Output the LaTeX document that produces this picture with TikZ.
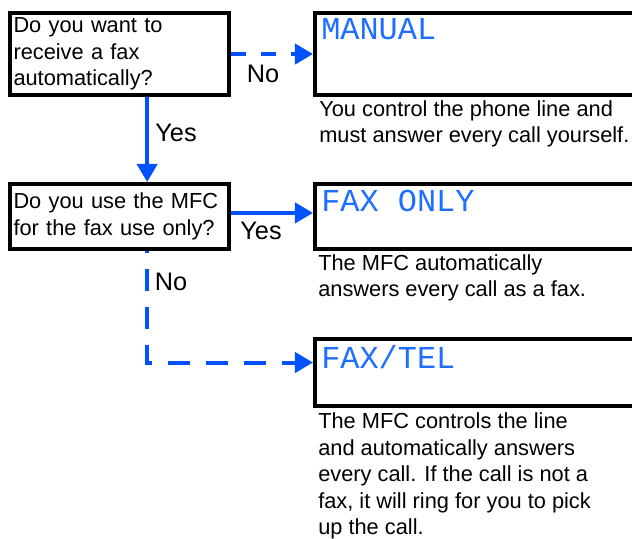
\documentclass[tikz,border=0pt]{standalone}
\usepackage{fontspec}
\setmainfont{Liberation Sans}
\newfontfamily\lcdfont{Liberation Mono}
\usepackage{tikz}
\usetikzlibrary{positioning}
\usetikzlibrary{arrows.meta}
\usepackage{xcolor}
\definecolor{flowblue}{RGB}{0,82,255}
\definecolor{lcdblue}{RGB}{30,110,255}
\newcommand{\bodyfont}{\fontsize{15.5}{18.8}\selectfont}
\newcommand{\screenfont}{\lcdfont\fontsize{22.7}{26}\selectfont}

\begin{document}
\begin{tikzpicture}[x=0.025cm,y=-0.025cm,
  question/.style={draw,line width=0.1cm,anchor=north west,align=left,
    inner xsep=0.0875cm,inner ysep=0,text width=5.3cm,minimum width=5.475cm,font=\bodyfont},
  screen/.style={draw,line width=0.1cm,anchor=north west,minimum width=8.5cm},
  display/.style={anchor=north west,inner sep=0,text=lcdblue,font=\screenfont},
  remark/.style={anchor=north west,inner sep=0,align=left,font=\bodyfont},
  answer/.style={font=\fontsize{18}{20}\selectfont,inner sep=0},
  yesline/.style={flowblue,line width=0.1cm,-{Triangle[length=0.45cm,width=0.5cm]}},
  noline/.style={yesline,dash pattern=on 0.55cm off 0.4cm}]
  \useasboundingbox (0,0) rectangle (632,539);
  \clip (0,0) rectangle (632,539);
  % questions
  \node[question,minimum height=2.05cm] (q1) at (8,11)
    {Do you want to\\receive a fax\\automatically?};
  \node[question,minimum height=1.625cm] (q2) at (8,182)
    {Do you use the MFC\\for the fax use only?};
  % receive modes (screens)
  \node[screen,minimum height=2.05cm] (manual) at (313,11) {};
  \node[screen,minimum height=1.625cm] (faxonly) at (313,182) {};
  \node[screen,minimum height=1.675cm] (faxtel) at (313,337) {};
  \node[display] (manualtxt) at ([shift={(0.2cm,-0.175cm)}]manual.north west) {MANUAL};
  \node[display] (faxonlytxt) at ([shift={(0.2cm,-0.2cm)}]faxonly.north west) {FAX ONLY};
  \node[display] (faxteltxt) at ([shift={(0.2cm,-0.2cm)}]faxtel.north west) {FAX/TEL};
  % what each mode does
  \node[remark] (manualnote) at ([shift={(0.15cm,-0.075cm)}]manual.south west)
    {You control the phone line and\\must answer every call yourself.};
  \node[remark] (faxonlynote) at ([shift={(0.125cm,-0.075cm)}]faxonly.south west)
    {The MFC automatically\\answers every call as a fax.};
  \node[remark] (faxtelnote) at ([shift={(0.125cm,-0.12cm)}]faxtel.south west)
    {The MFC controls the line\\and automatically answers\\every call. If the call is not a\\fax, it will ring for you to pick\\up the call.};
  % answers
  \draw[noline,dash pattern=on 0.375cm off 0.375cm] (q1.east) -- (manual.west);
  \draw[yesline] ([xshift=0.69cm]q1.south) -- ([xshift=0.69cm]q2.north);
  \draw[yesline] ([yshift=0.09cm]q2.east) -- ([yshift=0.09cm]faxonly.west);
  \draw[noline,dash phase=0.5cm] ([xshift=0.69cm]q2.south) |- ([yshift=0.25cm]faxtel.west);
  \node[answer] (no1) at (263,74) {No};
  \node[answer] (yes1) at (176,133) {Yes};
  \node[answer] (yes2) at (261,231) {Yes};
  \node[answer] (no2) at (171,282) {No};
\end{tikzpicture}
\end{document}
